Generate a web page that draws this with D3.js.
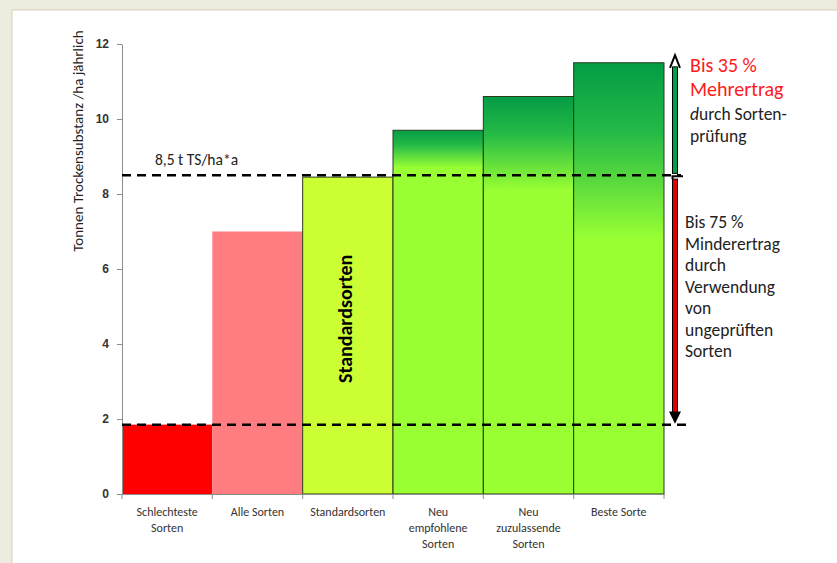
<!DOCTYPE html>
<html>
<head>
<meta charset="utf-8">
<script src="https://cdn.jsdelivr.net/npm/d3@7"></script>
<style>
  body { margin: 0; background: #eeebdf; }
  svg { display: block; font-family: Carlito, 'Open Sans', sans-serif; }
</style>
</head>
<body>
<svg id="chart" width="837" height="563"></svg>
<script>
// data
let categories = ['Schlechteste Sorten', 'Alle Sorten', 'Standardsorten', 'Neu empfohlene Sorten', 'Neu zuzulassende Sorten', 'Beste Sorte'];
let labelLines = [['Schlechteste', 'Sorten'], ['Alle Sorten'], ['Standardsorten'], ['Neu', 'empfohlene', 'Sorten'], ['Neu', 'zuzulassende', 'Sorten'], ['Beste Sorte']];
let values = [1.85, 7.0, 8.45, 9.7, 10.6, 11.5];
let yTicks = [0, 2, 4, 6, 8, 10, 12];
let refLevels = [8.5, 1.85];
let upperNote = ['Bis 35 %', 'Mehrertrag', 'durch Sorten-', 'prüfung'];
let lowerNote = ['Bis 75 %', 'Mindererertrag'.replace('erer', 'er'), 'durch', 'Verwendung', 'von', 'ungeprüften', 'Sorten'];

let margin = { top: 44, left: 122 },
    width = 542,
    height = 450;

let svg = d3.select('#chart');

// white panel
svg.append('rect')
    .attr('x', 12).attr('y', 10)
    .attr('width', 837).attr('height', 563)
    .style('fill', 'white')
    .style('stroke', '#d6d1b5');

let g = svg.append('g')
    .attr('transform', 'translate(' + margin.left + ',' + margin.top + ')');

let x = d3.scaleBand().domain(categories).range([0, width]);
let y = d3.scaleLinear().domain([0, 12]).range([height, 0]);

// gradients for the green bars
let defs = svg.append('defs');
let fades = { 3: 8.7, 4: 8.1, 5: 6.8 };
Object.keys(fades).forEach(function (i) {
    let grad = defs.append('linearGradient')
        .attr('id', 'grad' + i)
        .attr('gradientUnits', 'userSpaceOnUse')
        .attr('x1', 0).attr('x2', 0)
        .attr('y1', y(values[i])).attr('y2', y(fades[i]));
    grad.append('stop').attr('offset', 0).attr('stop-color', '#049c45');
    grad.append('stop').attr('offset', 0.4).attr('stop-color', '#25ba47');
    grad.append('stop').attr('offset', 1).attr('stop-color', '#99ff33');
});

let fills = ['#ff0000', '#ff7c80', '#ccff33', 'url(#grad3)', 'url(#grad4)', 'url(#grad5)'];

// bars
g.selectAll('.bar')
    .data(values)
    .enter().append('rect')
    .attr('class', 'bar')
    .attr('x', function (d, i) { return x(categories[i]); })
    .attr('y', function (d) { return y(d); })
    .attr('width', x.bandwidth())
    .attr('height', function (d) { return y(0) - y(d); })
    .style('fill', function (d, i) { return fills[i]; })
    .style('stroke', function (d, i) { return i < 2 ? 'none' : '#2b3a1c'; })
    .style('stroke-width', 1);

// y axis
let yAxis = g.append('g')
    .call(d3.axisLeft(y).tickValues(yTicks).tickSize(5).tickSizeOuter(0).tickPadding(8));
yAxis.select('.domain').style('stroke', '#8c8c8c');
yAxis.selectAll('line').style('stroke', '#8c8c8c');
yAxis.selectAll('text').style('font-size', '12px').style('font-weight', 'bold').style('fill', '#333');

// x axis
let xAxis = g.append('g')
    .attr('transform', 'translate(0,' + height + ')')
    .call(d3.axisBottom(x).tickSize(0).tickFormat(''));
xAxis.select('.domain').style('stroke', '#8c8c8c');
g.append('g').selectAll('line')
    .data(d3.range(categories.length + 1))
    .enter().append('line')
    .attr('x1', function (i) { return i * x.step(); })
    .attr('x2', function (i) { return i * x.step(); })
    .attr('y1', height).attr('y2', height + 5)
    .style('stroke', '#8c8c8c');

// category labels
categories.forEach(function (c, i) {
    let t = g.append('text')
        .attr('text-anchor', 'middle')
        .attr('x', x(c) + x.bandwidth() / 2)
        .attr('y', height + 22)
        .style('font-size', '12px')
        .style('fill', '#333');
    labelLines[i].forEach(function (l, k) {
        t.append('tspan').attr('x', x(c) + x.bandwidth() / 2).attr('dy', k === 0 ? 0 : 15.8).text(l);
    });
});

// y axis title
svg.append('text')
    .attr('text-anchor', 'middle')
    .attr('transform', 'translate(83,141)rotate(-90)')
    .style('font-size', '15px')
    .style('fill', '#222')
    .text('Tonnen Trockensubstanz /ha jährlich');

// label inside the standard bar
g.append('text')
    .attr('text-anchor', 'middle')
    .attr('transform', 'translate(' + (x(categories[2]) + x.bandwidth() / 2 + 4) + ',' + y(4.67) + ')rotate(-90)')
    .style('font-size', '20px')
    .style('font-weight', 'bold')
    .text('Standardsorten');

// dashed reference lines
let lineEnds = [559, 566];
refLevels.forEach(function (v, i) {
    g.append('line')
        .attr('x1', 0).attr('x2', lineEnds[i])
        .attr('y1', y(v)).attr('y2', y(v))
        .style('stroke', 'black')
        .style('stroke-width', 2.5)
        .style('stroke-dasharray', '9,6');
});

g.append('text')
    .attr('x', 33).attr('y', y(8.5) - 10)
    .style('font-size', '15.5px')
    .style('fill', '#222')
    .text('8,5 t TS/ha*a');

// arrows
let ax = 553;
// green arrow up
g.append('rect')
    .attr('x', ax - 2.5).attr('y', y(11.55) + 6)
    .attr('width', 5).attr('height', y(8.55) - y(11.55) - 6)
    .style('fill', '#00a04a').style('stroke', 'black').style('stroke-width', 1);
g.append('path')
    .attr('d', 'M' + (ax - 5) + ',' + (y(11.55) + 7) + 'L' + ax + ',' + y(11.7) + 'L' + (ax + 5) + ',' + (y(11.55) + 7))
    .style('fill', 'none').style('stroke', 'black').style('stroke-width', 2);
// red arrow down
g.append('rect')
    .attr('x', ax - 2.5).attr('y', y(8.45) + 2)
    .attr('width', 5).attr('height', y(2.2) - y(8.45))
    .style('fill', '#e00000').style('stroke', 'black').style('stroke-width', 1);
g.append('path')
    .attr('d', 'M' + (ax - 2.5) + ',' + (y(8.45) + 2) + 'L' + (ax - 2.5) + ',' + (y(8.45) - 1) + 'L' + (ax + 8) + ',' + (y(8.45) - 1))
    .style('fill', 'none').style('stroke', 'black').style('stroke-width', 2);
g.append('path')
    .attr('d', 'M' + (ax - 6) + ',' + y(2.2) + 'L' + ax + ',' + (y(1.85) - 1) + 'L' + (ax + 6) + ',' + y(2.2) + 'Z')
    .style('fill', 'black');

// notes on the right
let upper = svg.append('text');
let upperY = [72, 96, 120, 142];
upperNote.forEach(function (l, k) {
    let ts = upper.append('tspan').attr('x', 690).attr('y', upperY[k])
        .style('font-size', k < 2 ? '20px' : '17.5px')
        .style('fill', k < 2 ? '#ff1a1a' : '#222');
    if (k === 2) {
        ts.append('tspan').style('font-style', 'italic').text('d');
        ts.append('tspan').text(l.slice(1));
    } else {
        ts.text(l);
    }
});
let lower = svg.append('text').style('font-size', '17.5px').style('fill', '#222');
lowerNote.forEach(function (l, k) {
    lower.append('tspan').attr('x', 685).attr('y', 228 + k * 21.5).text(l);
});
</script>
</body>
</html>
